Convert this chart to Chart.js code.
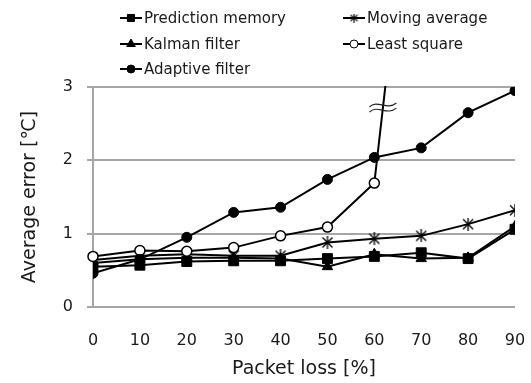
<!DOCTYPE html>
<html>
<head>
<meta charset="utf-8">
<script src="https://cdn.jsdelivr.net/npm/chart.js@4.4.1/dist/chart.umd.min.js"></script>
<style>
html,body{margin:0;padding:0;background:#fff;}
canvas{display:block;}
</style>
</head>
<body>
<canvas id="c" width="531" height="383"></canvas>
<script>
// ---- data ----
const packetLoss = [0, 10, 20, 30, 40, 50, 60, 70, 80, 90];
const predictionMemory = [0.55, 0.57, 0.62, 0.63, 0.63, 0.66, 0.69, 0.74, 0.66, 1.06];
const movingAverage   = [0.64, 0.70, 0.72, 0.70, 0.70, 0.88, 0.93, 0.97, 1.13, 1.32];
const kalmanFilter    = [0.60, 0.65, 0.67, 0.67, 0.66, 0.55, 0.72, 0.66, 0.67, 1.10];
const leastSquare     = [0.69, 0.77, 0.76, 0.81, 0.97, 1.09, 1.69, 7.3, null, null];
const adaptiveFilter  = [0.46, 0.65, 0.95, 1.29, 1.36, 1.74, 2.04, 2.17, 2.65, 2.95];
const seriesNames = ['Prediction memory', 'Moving average', 'Kalman filter', 'Least square', 'Adaptive filter'];
const yTicks = [0, 1, 2, 3];
const breakValue = 2.72; // axis-break mark on the Least square line

const FONT = 'DejaVu Sans';
const TXT = '#1a1a1a';
const GRID = '#a6a6a6';

function makeAsterisk(w, h, lw) {
  const cv = document.createElement('canvas');
  cv.width = w; cv.height = h;
  const g = cv.getContext('2d');
  g.strokeStyle = '#000'; g.lineWidth = lw;
  g.beginPath();
  g.moveTo(1, 1.5); g.lineTo(w - 1, h - 1.5);
  g.moveTo(w - 1, 1.5); g.lineTo(1, h - 1.5);
  g.moveTo(w / 2, 0); g.lineTo(w / 2, h);
  g.stroke();
  return cv;
}
const asteriskBig = makeAsterisk(12, 13, 1.3);
const asteriskSmall = makeAsterisk(9, 9, 1.1);

function pts(arr) { return packetLoss.map((x, i) => ({x: x, y: arr[i]})); }

const base = {borderColor: '#000', borderWidth: 2, tension: 0, pointBorderColor: '#000', pointBorderWidth: 1, pointHoverRadius: 0};

const datasets = [
  Object.assign({}, base, {label: seriesNames[0], data: pts(predictionMemory), pointStyle: 'rect', pointRadius: 7, pointBackgroundColor: '#000', order: 5}),
  Object.assign({}, base, {label: seriesNames[1], data: pts(movingAverage), pointStyle: asteriskBig, pointRadius: 6, pointBackgroundColor: '#000', order: 4}),
  Object.assign({}, base, {label: seriesNames[2], data: pts(kalmanFilter), pointStyle: 'triangle', pointRadius: 6, pointBackgroundColor: '#000', order: 3}),
  Object.assign({}, base, {label: seriesNames[3], data: pts(leastSquare), pointStyle: 'circle', pointRadius: 5, pointBackgroundColor: '#fff', pointBorderWidth: 1.5, order: 2, clip: {left: 8, right: 8, top: 1, bottom: 8}}),
  Object.assign({}, base, {label: seriesNames[4], data: pts(adaptiveFilter), pointStyle: 'circle', pointRadius: 5, pointBackgroundColor: '#000', order: 1})
];

const legendPlugin = {
  id: 'customLegend',
  afterDraw(chart) {
    const ctx = chart.ctx;
    const cols = [120, 343];
    const rows = [18, 44, 69];
    const styles = [
      {ps: 'rect', r: 5, fill: '#000'},
      {ps: asteriskSmall, r: 4, fill: '#000'},
      {ps: 'triangle', r: 5, fill: '#000'},
      {ps: 'circle', r: 3.5, fill: '#fff'},
      {ps: 'circle', r: 4, fill: '#000'}
    ];
    ctx.save();
    seriesNames.forEach((name, i) => {
      const x = cols[i % 2], y = rows[Math.floor(i / 2)];
      ctx.strokeStyle = '#000'; ctx.lineWidth = 2;
      ctx.beginPath(); ctx.moveTo(x, y); ctx.lineTo(x + 22, y); ctx.stroke();
      const st = styles[i];
      ctx.fillStyle = st.fill; ctx.strokeStyle = '#000'; ctx.lineWidth = 1;
      if (st.ps === 'circle' && st.fill === '#fff') {
        ctx.beginPath(); ctx.arc(x + 11, y, st.r + 0.5, 0, Math.PI * 2); ctx.fillStyle = '#fff'; ctx.fill(); ctx.stroke();
      } else {
        Chart.helpers.drawPoint(ctx, {pointStyle: st.ps, radius: st.r, borderWidth: 1, rotation: 0}, x + 11, y);
      }
      ctx.fillStyle = TXT; ctx.font = '15px "' + FONT + '"';
      ctx.textAlign = 'left'; ctx.textBaseline = 'middle';
      ctx.fillText(name, x + 24, y + 1);
    });
    ctx.restore();
  }
};

const breakPlugin = {
  id: 'breakMark',
  afterDatasetsDraw(chart) {
    const xs = chart.scales.x, ys = chart.scales.y;
    // locate where the Least square line crosses the break value
    let xv = null;
    for (let i = 0; i < leastSquare.length - 1; i++) {
      const a = leastSquare[i], b = leastSquare[i + 1];
      if (a != null && b != null && a <= breakValue && b > breakValue) {
        xv = packetLoss[i] + (breakValue - a) / (b - a) * (packetLoss[i + 1] - packetLoss[i]);
      }
    }
    if (xv == null) return;
    const cx = xs.getPixelForValue(xv), cy = ys.getPixelForValue(breakValue);
    const ctx = chart.ctx;
    ctx.save();
    ctx.strokeStyle = '#222'; ctx.lineWidth = 1.2;
    [-2.6, 2.6].forEach(dy => {
      const y = cy + dy, x0 = cx - 13.5;
      ctx.beginPath();
      ctx.moveTo(x0, y + 2);
      ctx.bezierCurveTo(x0 + 8, y - 6, x0 + 17, y + 6, x0 + 27, y - 2);
      ctx.stroke();
    });
    ctx.restore();
  }
};

Chart.defaults.font.family = FONT;
Chart.defaults.color = TXT;

new Chart(document.getElementById('c'), {
  type: 'line',
  data: {datasets: datasets},
  options: {
    responsive: false,
    devicePixelRatio: 1,
    animation: false,
    layout: {padding: {top: 87, right: 16, bottom: 0, left: 0}},
    plugins: {legend: {display: false}, tooltip: {enabled: false}},
    scales: {
      x: {
        type: 'linear', min: 0, max: 90,
        afterBuildTicks(s) { s.ticks = packetLoss.map(v => ({value: v})); },
        ticks: {font: {size: 16}, color: TXT, padding: 24, maxRotation: 0, autoSkip: false},
        grid: {display: false, drawTicks: false},
        border: {display: false},
        title: {display: true, text: 'Packet loss [%]', font: {size: 19}, color: TXT, padding: {top: 0, bottom: 3}},
        afterFit(s) { s.height = 76; s.paddingLeft = 0; s.paddingRight = 0; s.paddingTop = 0; s.paddingBottom = 0; }
      },
      y: {
        min: 0, max: 3,
        afterBuildTicks(s) { s.ticks = yTicks.map(v => ({value: v})); },
        ticks: {font: {size: 16}, color: TXT, padding: 14},
        grid: {color: GRID, lineWidth: 2, tickLength: 6, drawTicks: true},
        border: {display: true, color: GRID, width: 2},
        title: {display: true, text: 'Average error [℃]', font: {size: 19}, color: TXT, padding: {top: 19, bottom: 0}},
        afterFit(s) { s.width = 93; s.paddingLeft = 0; s.paddingRight = 0; s.paddingTop = 0; s.paddingBottom = 0; }
      }
    }
  },
  plugins: [legendPlugin, breakPlugin]
});
</script>
</body>
</html>
